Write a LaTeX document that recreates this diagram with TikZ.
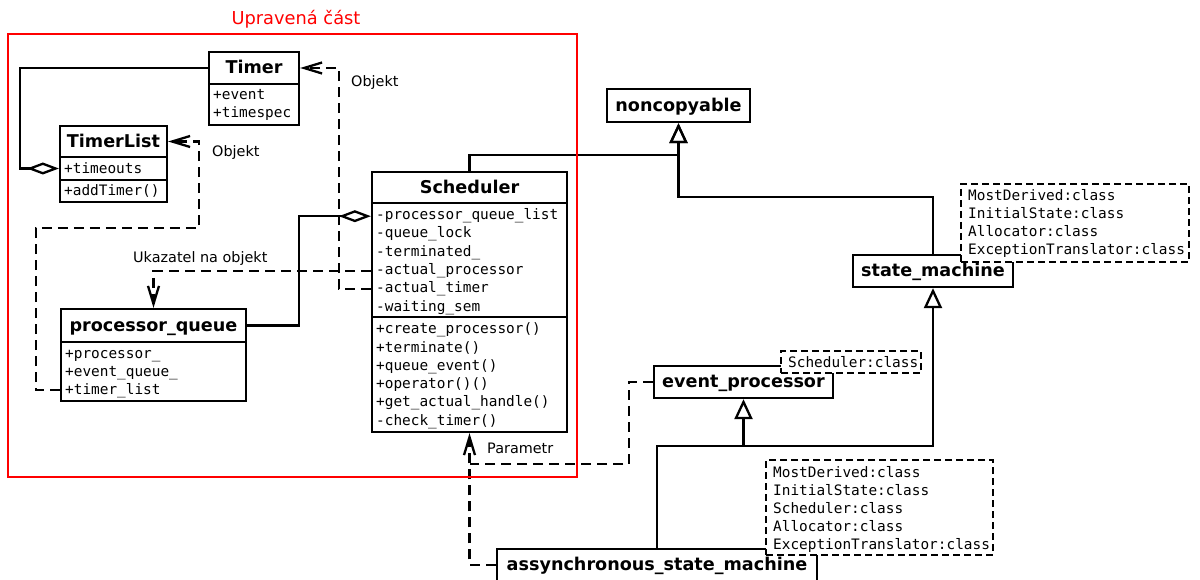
\documentclass[tikz,border=0pt]{standalone}
\usepackage{fontspec}
\setmainfont{DejaVu Sans}
\newfontfamily\monofam{DejaVu Sans Mono}
\usetikzlibrary{arrows.meta,calc}

\begin{document}
\begin{tikzpicture}[
  x=1pt, y=-1pt,
  box/.style={draw, line width=2.3pt, fill=white, inner sep=0pt},
  hdr/.style={box, font=\fontsize{17.6}{20}\selectfont\bfseries, text height=15.5pt, text depth=4pt},
  tmpl/.style={draw, line width=2.2pt, fill=white, dash pattern=on 7pt off 4pt, inner sep=0pt},
  member/.style={anchor=base west, inner sep=0pt, font=\monofam\fontsize{14.4}{18}\selectfont},
  lbl/.style={anchor=base west, inner sep=0pt, font=\fontsize{14.4}{17}\selectfont},
  conn/.style={line width=2.3pt},
  dep/.style={conn, dash pattern=on 10pt off 6pt, -{Straight Barb[length=18pt,width=11pt]}},
  depline/.style={conn, dash pattern=on 10pt off 6pt},
  aggr/.style={conn, {Diamond[open,length=32pt,width=12pt]}-},
  gen/.style={conn, -{Triangle[open,length=20pt,width=18pt]}},
]
\useasboundingbox (0,0) rectangle (1200,580);

% ---------- Timer ----------
\node[hdr, minimum width=90pt, minimum height=32pt] (timer) at (254,68) {Timer};
\node[box, minimum width=90pt, minimum height=41pt] (timerA) at (254,104.5) {};
\node[member] (timer1) at (213,100) {+event};
\node[member] (timer2) at (213,118) {+timespec};

% ---------- TimerList ----------
\node[hdr, minimum width=107pt, minimum height=31pt] (tl) at (113.5,141.5) {TimerList};
\node[box, minimum width=107pt, minimum height=23pt] (tlA) at (113.5,168.5) {};
\node[box, minimum width=107pt, minimum height=22pt] (tlM) at (113.5,191) {};
\node[member] (tl1) at (64,174) {+timeouts};
\node[member] (tl2) at (64,196) {+addTimer()};

% ---------- Scheduler ----------
\node[hdr, minimum width=195pt, minimum height=31pt] (sch) at (469.5,187.5) {Scheduler};
\node[box, minimum width=195pt, minimum height=114pt] (schA) at (469.5,260) {};
\node[box, minimum width=195pt, minimum height=115pt] (schM) at (469.5,374.5) {};
\node[member] (s1) at (376,220) {-processor\_queue\_list};
\node[member] (s2) at (376,238) {-queue\_lock};
\node[member] (s3) at (376,257) {-terminated\_};
\node[member] (s4) at (376,275) {-actual\_processor};
\node[member] (s5) at (376,293) {-actual\_timer};
\node[member] (s6) at (376,311) {-waiting\_sem};
\node[member] (m1) at (376,333) {+create\_processor()};
\node[member] (m2) at (376,352) {+terminate()};
\node[member] (m3) at (376,370) {+queue\_event()};
\node[member] (m4) at (376,388) {+operator()()};
\node[member] (m5) at (376,406) {+get\_actual\_handle()};
\node[member] (m6) at (376,425) {-check\_timer()};

% ---------- processor_queue ----------
\node[hdr, minimum width=185pt, minimum height=33pt] (pq) at (153.5,325.5) {processor\_queue};
\node[box, minimum width=185pt, minimum height=59pt] (pqA) at (153.5,371.5) {};
\node[member] (p1) at (65,358) {+processor\_};
\node[member] (p2) at (65,376) {+event\_queue\_};
\node[member] (p3) at (65,394) {+timer\_list};

% ---------- library classes ----------
\node[hdr, minimum width=143pt, minimum height=33pt] (nc) at (678.5,105.5) {noncopyable};
\node[hdr, minimum width=160pt, minimum height=32pt] (sm) at (933,271) {state\_machine};
\node[hdr, minimum width=179pt, minimum height=32pt] (ep) at (743.5,382) {event\_processor};
\node[hdr, minimum width=320pt, minimum height=32pt] (asm) at (657,565) {assynchronous\_state\_machine};

% ---------- template parameters ----------
\node[tmpl, minimum width=228pt, minimum height=78pt] (smT) at (1075,223) {};
\node[member] (smT1) at (968,201) {MostDerived:class};
\node[member] (smT2) at (968,219) {InitialState:class};
\node[member] (smT3) at (968,237) {Allocator:class};
\node[member] (smT4) at (968,255) {ExceptionTranslator:class};

\node[tmpl, minimum width=140pt, minimum height=22pt] (epT) at (851,362) {};
\node[member] (epT1) at (788,367) {Scheduler:class};

\node[tmpl, minimum width=227pt, minimum height=95pt] (asmT) at (879.5,507.5) {};
\node[member] (asmT1) at (773,477) {MostDerived:class};
\node[member] (asmT2) at (773,495) {InitialState:class};
\node[member] (asmT3) at (773,513) {Scheduler:class};
\node[member] (asmT4) at (773,531) {Allocator:class};
\node[member] (asmT5) at (773,549) {ExceptionTranslator:class};

% ---------- labels ----------
\node[lbl] (lObj1) at (351,87) {Objekt};
\node[lbl] (lObj2) at (212,157) {Objekt};
\node[lbl] (lUk) at (133,263) {Ukazatel na objekt};
\node[lbl] (lPar) at (487,453) {Parametr};
\node[anchor=base, inner sep=0pt, text=red, font=\fontsize{17.8}{20}\selectfont] (title) at (296,25) {Upravená část};

% ---------- aggregations ----------
\draw[aggr] (tlA.west) -- ++(-39,0) |- (timer.west);
\draw[aggr] (schA.west |- s1) -- ++(-72,0) |- (pq.east);

% ---------- dependencies ----------
\draw[dep] (schA.west |- s5) -- ++(-32,0) |- (timer.east);
\draw[dep] (pqA.west |- p3) -- ++(-24,0) -- ++(0,-162) -- ++(163,0) |- (tl.east);
\draw[dep] (schA.west |- s4) -| (pq.north);
\draw[dep] (asm.west) -| (schM.south);
\coordinate (pj) at ($(schM.south)+(0,31)$);
\draw[depline] (ep.west) -- ++(-24,0) |- (pj);

% ---------- generalizations ----------
\draw[gen] (sch.north) -- ++(0,-16) -| (nc.south);
\draw[gen] (sm.north) -- ++(0,-57) -| (nc.south);
\draw[gen] (asm.north) -- ++(0,-102) -| (sm.south);
\draw[gen] (asm.north) -- ++(0,-102) -| (ep.south);

% ---------- modified part frame ----------
\draw[red, line width=2.2pt] (8,34) rectangle (577,477);
\end{tikzpicture}
\end{document}
